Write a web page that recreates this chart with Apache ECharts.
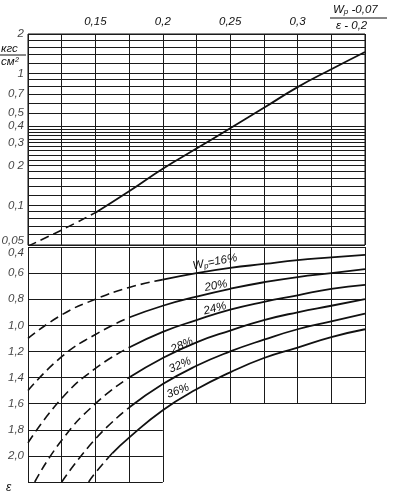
<!DOCTYPE html>
<html><head><meta charset="utf-8">
<script src="https://cdn.jsdelivr.net/npm/echarts@6/dist/echarts.min.js"></script>
<style>html,body{margin:0;padding:0;background:#fff}#c{width:394px;height:500px}</style>
</head><body><div id="c"></div>
<script>
// ---------- shared x axis ----------
const xMin = 0.1, xMax = 0.35, xStep = 0.025;
const xGridValues = [0.1, 0.125, 0.15, 0.175, 0.2, 0.225, 0.25, 0.275, 0.3, 0.325, 0.35];
const xTickValues = [0.15, 0.2, 0.25, 0.3];
const xTickLabels = ['0,15', '0,2', '0,25', '0,3'];

// ---------- top panel (pressure, kgf/cm2, log) ----------
const pMin = 0.05, pMax = 2;
const pGridValues = [2, 1.8, 1.6, 1.4, 1.2, 1, 0.9, 0.8, 0.7, 0.6, 0.5, 0.4, 0.38, 0.36, 0.34, 0.32, 0.3,
  0.28, 0.26, 0.24, 0.22, 0.2, 0.18, 0.16, 0.14, 0.12, 0.1, 0.09, 0.08, 0.07, 0.06, 0.05];
const pTickValues = [2, 1, 0.7, 0.5, 0.4, 0.3, 0.2, 0.1, 0.05];
const pTickLabels = ['2', '1', '0,7', '0,5', '0,4', '0,3', '0 2', '0,1', '0,05'];
const pCurveX = [0.1, 0.125, 0.15, 0.175, 0.2, 0.225, 0.25, 0.275, 0.3, 0.325, 0.35];
const pCurveY = [0.049, 0.065, 0.088, 0.128, 0.19, 0.27, 0.385, 0.55, 0.79, 1.08, 1.46];
const pDashedUntil = 0.15;

// ---------- bottom panel (void ratio eps, reversed) ----------
const epsMin = 0.4, epsMax = 2.2;
const epsGridValues = [0.4, 0.6, 0.8, 1.0, 1.2, 1.4, 1.6, 1.8, 2.0, 2.2];
const epsTickValues = [0.4, 0.6, 0.8, 1.0, 1.2, 1.4, 1.6, 1.8, 2.0];
const epsTickLabels = ['0,4', '0,6', '0,8', '1,0', '1,2', '1,4', '1,6', '1,8', '2,0'];
const epsFullWidthMax = 1.6;   // full-width grid down to this eps
const xNarrowMax = 0.2;        // lower part of grid only up to this x

const curveLabels = ['16%', '20%', '24%', '28%', '32%', '36%'];
const w16X = [0.1, 0.125, 0.15, 0.175, 0.2, 0.225, 0.25, 0.275, 0.3, 0.325, 0.35];
const w16E = [1.10, 0.92, 0.80, 0.71, 0.65, 0.60, 0.56, 0.53, 0.50, 0.48, 0.46];
const w20X = [0.1, 0.125, 0.15, 0.175, 0.2, 0.225, 0.25, 0.275, 0.3, 0.325, 0.35];
const w20E = [1.50, 1.24, 1.07, 0.94, 0.85, 0.78, 0.72, 0.67, 0.63, 0.60, 0.57];
const w24X = [0.1, 0.125, 0.15, 0.175, 0.2, 0.225, 0.25, 0.275, 0.3, 0.325, 0.35];
const w24E = [1.90, 1.56, 1.33, 1.17, 1.05, 0.96, 0.88, 0.82, 0.77, 0.72, 0.69];
const w28X = [0.105, 0.125, 0.15, 0.175, 0.2, 0.225, 0.25, 0.275, 0.3, 0.325, 0.35];
const w28E = [2.20, 1.88, 1.60, 1.40, 1.25, 1.13, 1.04, 0.96, 0.90, 0.85, 0.80];
const w32X = [0.125, 0.15, 0.175, 0.2, 0.225, 0.25, 0.275, 0.3, 0.325, 0.35];
const w32E = [2.20, 1.87, 1.63, 1.45, 1.31, 1.20, 1.11, 1.03, 0.97, 0.91];
const w36X = [0.145, 0.15, 0.1625, 0.175, 0.2, 0.225, 0.25, 0.275, 0.3, 0.325, 0.35];
const w36E = [2.20, 2.13, 1.98, 1.86, 1.65, 1.49, 1.36, 1.25, 1.17, 1.09, 1.03];
const curveX = [w16X, w20X, w24X, w28X, w32X, w36X];
const curveE = [w16E, w20E, w24E, w28E, w32E, w36E];
const curveDashedUntil = [0.2, 0.175, 0.175, 0.175, 0.175, 0.1625];
const curveLabelAt = [[0.2387, 0.514], [0.2395, 0.697], [0.2387, 0.871], [0.2143, 1.153], [0.2128, 1.305], [0.2113, 1.503]];
const curveLabelRot = [11, 10, 14, 24, 24, 20];

// ---------- build ----------
const FONT = 'Liberation Sans';
const INK = '#111';
const near = (a, b) => Math.abs(a - b) < 1e-6;
const lbl = { fontStyle: 'italic', fontFamily: FONT, fontSize: 11.5, color: INK };

function split(xs, ys, until) {
  const d = [], s = [];
  xs.forEach((x, i) => {
    if (x <= until + 1e-9) d.push([x, ys[i]]);
    if (x >= until - 1e-9) s.push([x, ys[i]]);
  });
  return { d, s };
}

const topLines = pGridValues.map(v => [{ coord: [xMin, v] }, { coord: [xMax, v] }]);

const botLines = [];
epsGridValues.forEach(e => {
  botLines.push([{ coord: [xMin, e] }, { coord: [e <= epsFullWidthMax + 1e-9 ? xMax : xNarrowMax, e] }]);
});
xGridValues.forEach(x => {
  botLines.push([{ coord: [x, epsMin] }, { coord: [x, x <= xNarrowMax + 1e-9 ? epsMax : epsFullWidthMax] }]);
});

const gridLineStyle = { color: '#1a1a1a', width: 1, type: 'solid' };
const series = [];

series.push({
  type: 'line', xAxisIndex: 0, yAxisIndex: 0, data: [], silent: true,
  markLine: { silent: true, symbol: 'none', label: { show: false }, lineStyle: gridLineStyle, data: topLines, animation: false }
});
series.push({
  type: 'line', xAxisIndex: 1, yAxisIndex: 1, data: [], silent: true,
  markLine: { silent: true, symbol: 'none', label: { show: false }, lineStyle: gridLineStyle, data: botLines, animation: false }
});

// y tick labels (top)
series.push({
  type: 'scatter', xAxisIndex: 0, yAxisIndex: 0, symbolSize: 0, silent: true,
  data: pTickValues.map((v, i) => ({
    value: [xMin, v],
    label: { offset: near(v, pMin) ? [0, -4] : [0, 0] },
    name: pTickLabels[i]
  })),
  label: Object.assign({ show: true, position: 'left', distance: 4, formatter: p => p.name }, lbl)
});
// eps tick labels (bottom)
series.push({
  type: 'scatter', xAxisIndex: 1, yAxisIndex: 1, symbolSize: 0, silent: true,
  data: epsTickValues.map((v, i) => ({
    value: [xMin, v],
    label: { offset: near(v, epsMin) ? [0, 6] : [0, 0] },
    name: epsTickLabels[i]
  })),
  label: Object.assign({ show: true, position: 'left', distance: 4, formatter: p => p.name }, lbl)
});

// top curve
{
  const sp = split(pCurveX, pCurveY, pDashedUntil);
  series.push({ type: 'line', xAxisIndex: 0, yAxisIndex: 0, smooth: true, showSymbol: false, data: sp.d,
    lineStyle: { color: INK, width: 1.6, type: [9, 5] }, z: 5 });
  series.push({ type: 'line', xAxisIndex: 0, yAxisIndex: 0, smooth: true, showSymbol: false, data: sp.s,
    lineStyle: { color: INK, width: 1.8 }, z: 5 });
}

// bottom curves
curveX.forEach((xs, k) => {
  const sp = split(xs, curveE[k], curveDashedUntil[k]);
  series.push({ type: 'line', xAxisIndex: 1, yAxisIndex: 1, smooth: true, showSymbol: false, data: sp.d,
    lineStyle: { color: INK, width: 1.6, type: [9, 5] }, z: 5 });
  const label = k === 0
    ? { formatter: '{w|W}{s|p}{w|=' + curveLabels[k] + '}', rich: { w: Object.assign({}, lbl), s: Object.assign({}, lbl, { fontSize: 8, padding: [5, 0, 0, 0] }) } }
    : Object.assign({ formatter: curveLabels[k] }, lbl);
  series.push({ type: 'line', xAxisIndex: 1, yAxisIndex: 1, smooth: true, showSymbol: false, data: sp.s,
    lineStyle: { color: INK, width: 1.8 }, z: 5,
    markPoint: {
      symbol: 'circle', symbolSize: 0, silent: true, animation: false,
      label: Object.assign({ show: true, position: 'inside', rotate: curveLabelRot[k] }, label),
      data: [{ coord: curveLabelAt[k] }]
    }
  });
});

const option = {
  animation: false,
  backgroundColor: '#fff',
  grid: [
    { left: 28, top: 34, width: 337, height: 211, show: true, borderColor: INK, borderWidth: 1, backgroundColor: 'transparent' },
    { left: 28, top: 247, width: 337, height: 235, show: false }
  ],
  xAxis: [
    { gridIndex: 0, type: 'value', min: xMin, max: xMax, interval: xStep, position: 'top',
      axisLine: { show: false }, axisTick: { show: false },
      splitLine: { show: true, lineStyle: gridLineStyle },
      axisLabel: Object.assign({ margin: 6, formatter: v => {
        const i = xTickValues.findIndex(t => near(t, v)); return i >= 0 ? xTickLabels[i] : '';
      } }, lbl) },
    { gridIndex: 1, type: 'value', min: xMin, max: xMax, interval: xStep, show: false, splitLine: { show: false } }
  ],
  yAxis: [
    { gridIndex: 0, type: 'log', logBase: 10, min: pMin, max: pMax, show: false, splitLine: { show: false } },
    { gridIndex: 1, type: 'value', inverse: true, min: epsMin, max: epsMax, interval: 0.2, show: false, splitLine: { show: false } }
  ],
  graphic: [
    { type: 'text', x: 1, y: 43, style: { text: 'кгс', font: 'italic 11.5px ' + FONT, fill: INK } },
    { type: 'line', shape: { x1: 0, y1: 55, x2: 26, y2: 55 }, style: { stroke: INK, lineWidth: 1 } },
    { type: 'text', x: 1, y: 56, style: { text: 'см²', font: 'italic 11.5px ' + FONT, fill: INK } },
    { type: 'text', x: 333, y: 3, style: { text: '{w|W}{s|p}{w| -0,07}', rich: {
        w: { font: 'italic 11.5px ' + FONT, fill: INK }, s: { font: 'italic 8px ' + FONT, fill: INK, padding: [5, 0, 0, 0] } } } },
    { type: 'line', shape: { x1: 330, y1: 18, x2: 387, y2: 18 }, style: { stroke: INK, lineWidth: 1 } },
    { type: 'text', x: 336, y: 20, style: { text: 'ε - 0,2', font: 'italic 11.5px ' + FONT, fill: INK } },
    { type: 'text', x: 6, y: 482, style: { text: 'ε', font: 'italic 12px ' + FONT, fill: INK } }
  ],
  series
};
const chart = echarts.init(document.getElementById('c'), null, { renderer: 'canvas' });
chart.setOption(option);
</script>
</body></html>
